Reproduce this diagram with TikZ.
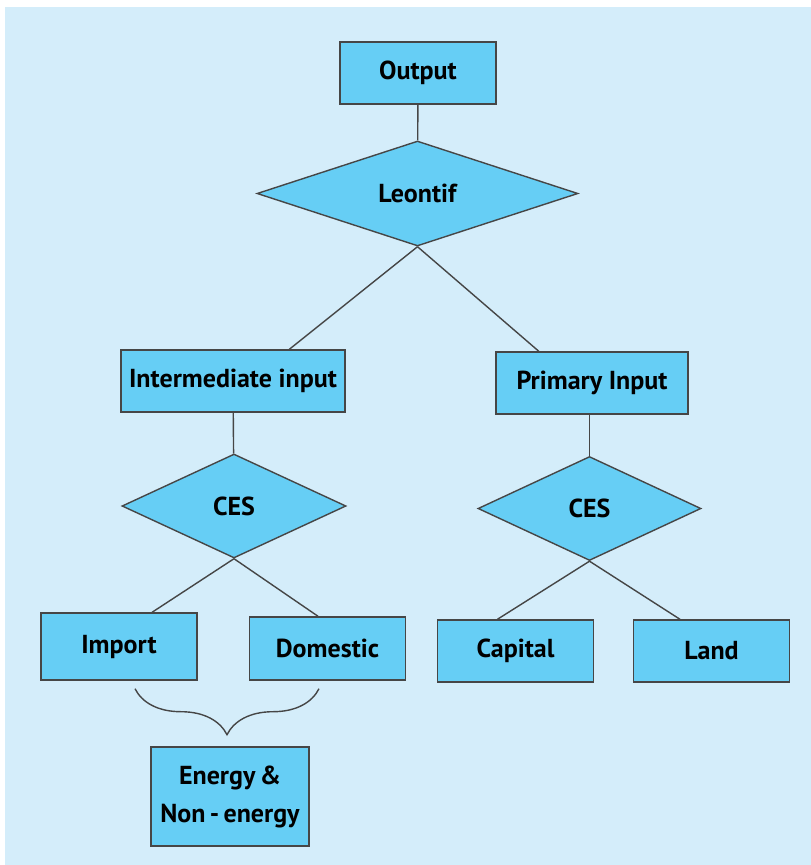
\documentclass[tikz,border=0pt]{standalone}
\usepackage{fontspec}
\setmainfont{PT Sans}
\usetikzlibrary{shapes.geometric,decorations.pathreplacing,calc}
\definecolor{bgblue}{RGB}{212,237,250}
\definecolor{boxblue}{RGB}{102,206,245}
\definecolor{edgegray}{RGB}{70,70,70}

\begin{document}
\begin{tikzpicture}[x=1pt,y=-1pt,line width=1.4pt,
  box/.style={draw=edgegray,fill=boxblue,minimum width=156pt,minimum height=62pt,inner sep=0pt,align=center,font=\fontsize{26}{38}\selectfont\bfseries},
  rhomb/.style={draw=edgegray,fill=boxblue,diamond,inner sep=0pt,minimum width=224pt,minimum height=104pt,font=\fontsize{26}{38}\selectfont\bfseries},
  link/.style={draw=edgegray}]
\useasboundingbox (0,0) rectangle (811,865);
\fill[bgblue] (5,7) rectangle (811,865);
% top of the tree
\node[box] (out) at (418,73) {Output};
\node[rhomb,minimum width=321pt,minimum height=105pt] (leo) at (417.5,193.5) {Leontif};
% second level
\node[box,minimum width=224pt] (inter) at (233,381) {Intermediate input};
\node[box,minimum width=192pt] (prim) at (592,383) {Primary Input};
\node[rhomb] (cesl) at (234,506) {CES};
\node[rhomb,minimum width=223pt] (cesr) at (589.5,508.5) {CES};
% leaves
\node[box,minimum height=67pt] (imp) at (119,646.5) {Import};
\node[box,minimum height=63pt] (dom) at (327.5,648.5) {Domestic};
\node[box] (cap) at (515.5,651) {Capital};
\node[box] (land) at (711.5,651) {Land};
\node[box,minimum width=158pt,minimum height=99pt] (en) at (230,796.5) {Energy\,\&\\Non\,-\,energy};
% connectors
\draw[link] (out) -- (leo);
\draw[link] (leo.south) -- ($(inter.north)!0.5!(inter.north east)$);
\draw[link] (leo.south) -- ($(prim.north)!0.55!(prim.north west)$);
\draw[link] (inter) -- (cesl);
\draw[link] (prim.south -| cesr.north) -- (cesr.north);
\draw[link] (cesl.south) -- ($(imp.north)!0.42!(imp.north east)$);
\draw[link] (cesl.south) -- ($(dom.north)!0.12!(dom.north west)$);
\draw[link] (cesr.south) -- ($(cap.north)!0.23!(cap.north west)$);
\draw[link] (cesr.south) -- ($(land.north)!0.4!(land.north west)$);
\draw[link,decorate,decoration={brace,mirror,amplitude=46pt}] ($(imp.south)+(16,8)$) -- ($(dom.south)+(-8.5,8)$);
\end{tikzpicture}
\end{document}
